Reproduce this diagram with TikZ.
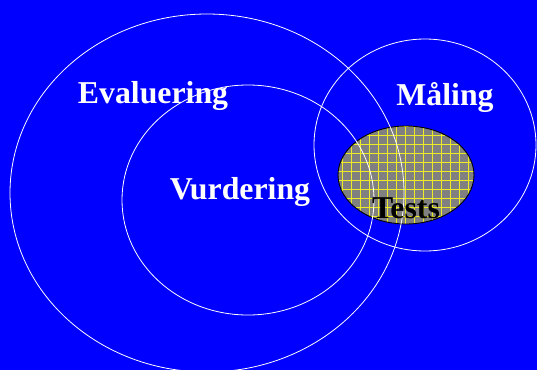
\documentclass[tikz,border=0pt]{standalone}
\usepackage{fontspec}
\setmainfont{Liberation Serif}
\definecolor{bgblue}{RGB}{0,0,255}
\definecolor{testgray}{RGB}{128,128,128}
\definecolor{gridyellow}{RGB}{235,235,40}
\begin{document}
\begin{tikzpicture}[x=1pt,y=-1pt,
  ring/.style={draw=white,line width=0.8pt},
  lbl/.style={text=white,font=\bfseries\fontsize{31.8}{32}\selectfont,inner sep=0pt,anchor=base}]
\useasboundingbox (0,0) rectangle (537,370);
\fill[bgblue] (0,0) rectangle (537,370);
% Tests ellipse
\fill[testgray] (406,175) ellipse [x radius=68, y radius=49];
\begin{scope}
\clip (406,175) ellipse [x radius=68, y radius=49];
\draw[gridyellow,line width=0.5pt,step=9pt] (330,120) grid (480,230);
\end{scope}
\draw[black,line width=0.9pt] (406,175) ellipse [x radius=68, y radius=49];
% rings
\draw[ring] (207,193) ellipse [x radius=197, y radius=179];
\draw[ring] (248,200) ellipse [x radius=126, y radius=115];
\draw[ring] (425,145) ellipse [x radius=111, y radius=106];
% labels
\node[lbl] (eval) at (153,103) {Evaluering};
\node[lbl] (vurd) at (240,199) {Vurdering};
\node[lbl] (mal) at (445,105) {Måling};
\node[lbl,text=black] (tests) at (406,218) {Tests};
\end{tikzpicture}
\end{document}
